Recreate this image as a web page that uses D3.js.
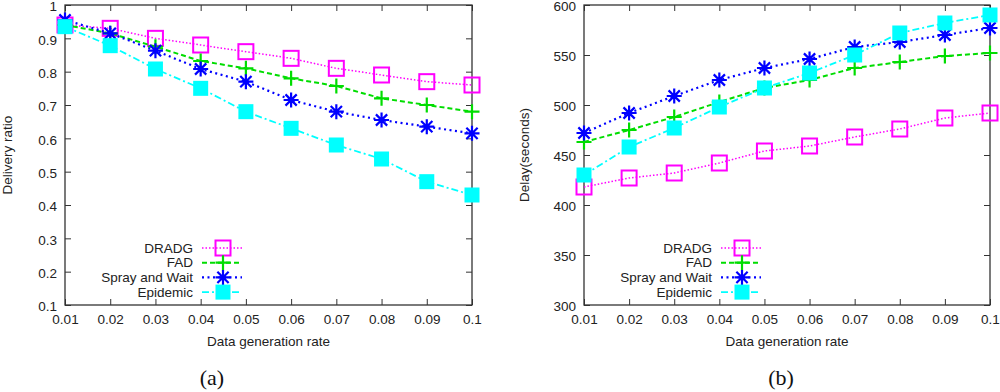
<!DOCTYPE html>
<html lang="en">
<head>
    <meta charset="UTF-8">
    <title>Delivery ratio and delay</title>
    <script src="https://d3js.org/d3.v7.min.js"></script>
    <style>
        body { margin: 0; background: #fff; }
        text { font-family: "Liberation Sans", Arial, sans-serif; fill: #222; }
        text.caption { font-family: "Liberation Serif", "Times New Roman", serif; fill: #111; }
    </style>
</head>
<body>
<svg width="1000" height="392" viewBox="0 0 1000 392"></svg>
<script>
    let rates = [0.01, 0.02, 0.03, 0.04, 0.05, 0.06, 0.07, 0.08, 0.09, 0.1]
    let xTickLabels = ["0.01", "0.02", "0.03", "0.04", "0.05", "0.06", "0.07", "0.08", "0.09", "0.1"]
    let seriesNames = ["DRADG", "FAD", "Spray and Wait", "Epidemic"]

    // delivery ratio, panel (a)
    let ratioDRADG = [0.94, 0.93, 0.90, 0.88, 0.86, 0.84, 0.81, 0.79, 0.77, 0.76]
    let ratioFAD = [0.94, 0.915, 0.875, 0.832, 0.81, 0.78, 0.757, 0.72, 0.70, 0.68]
    let ratioSpray = [0.955, 0.915, 0.863, 0.808, 0.77, 0.715, 0.68, 0.655, 0.635, 0.615]
    let ratioEpidemic = [0.935, 0.878, 0.808, 0.75, 0.68, 0.63, 0.58, 0.538, 0.47, 0.43]
    let ratioTicks = [0.1, 0.2, 0.3, 0.4, 0.5, 0.6, 0.7, 0.8, 0.9, 1]
    let ratioTickLabels = ["0.1", "0.2", "0.3", "0.4", "0.5", "0.6", "0.7", "0.8", "0.9", "1"]

    // delay, panel (b)
    let delayDRADG = [418, 427, 432, 442, 454, 459, 468, 476, 487, 492]
    let delayFAD = [463, 475, 488, 503, 517, 525, 537, 543, 549, 552]
    let delaySpray = [472, 492, 509, 525, 537, 546, 558, 563, 570, 577]
    let delayEpidemic = [430, 458, 477, 498, 517, 532, 550, 572, 582, 590]
    let delayTicks = [300, 350, 400, 450, 500, 550, 600]
    let delayTickLabels = ["300", "350", "400", "450", "500", "550", "600"]

    let styles = [
        {color: "#ff00ff", dash: "1.5,2", width: 1.5, marker: "box"},
        {color: "#00dd00", dash: "5,3", width: 2, marker: "plus"},
        {color: "#0000ff", dash: "2,3.5", width: 2.2, marker: "star"},
        {color: "#00ffff", dash: "7,3,2,3", width: 1.8, marker: "fbox"}
    ]

    let svg = d3.select("svg")

    function drawMarker(g, type, color, x, y) {
        let s = 7.5
        if (type == "box") {
            g.append("rect").attr("x", x - s).attr("y", y - s).attr("width", 2 * s).attr("height", 2 * s)
                .attr("fill", "none").attr("stroke", color).attr("stroke-width", 2)
        } else if (type == "fbox") {
            g.append("rect").attr("x", x - s).attr("y", y - s).attr("width", 2 * s).attr("height", 2 * s)
                .attr("fill", color)
        } else {
            let p = `M${x - s},${y}H${x + s}M${x},${y - s}V${y + s}`
            if (type == "star") p += `M${x - s * 0.75},${y - s * 0.75}L${x + s * 0.75},${y + s * 0.75}M${x - s * 0.75},${y + s * 0.75}L${x + s * 0.75},${y - s * 0.75}`
            g.append("path").attr("d", p).attr("stroke", color).attr("stroke-width", 2.2).attr("fill", "none")
        }
    }

    function panel(opt) {
        let x = d3.scaleLinear().domain([0.01, 0.1]).range([opt.left, opt.right])
        let y = d3.scaleLinear().domain(opt.yDomain).range([305, 5])
        let g = svg.append("g")

        // inward ticks on all sides, gnuplot style
        let tickLen = 6
        g.append("g").attr("transform", "translate(0,305)")
            .call(d3.axisBottom(x).tickValues(rates).tickSize(-tickLen).tickPadding(9)
                .tickFormat((d, i) => xTickLabels[i]))
        g.append("g").attr("transform", "translate(0,5)")
            .call(d3.axisTop(x).tickValues(rates).tickSize(-tickLen).tickFormat(""))
        let yAxis = g.append("g").attr("transform", `translate(${opt.left},0)`)
            .call(d3.axisLeft(y).tickValues(opt.yTicks).tickSize(-tickLen).tickPadding(8)
                .tickFormat((d, i) => opt.yTickLabels[i]))
        yAxis.selectAll(".tick text").attr("dy", "0.42em")
        g.append("g").attr("transform", `translate(${opt.right},0)`)
            .call(d3.axisRight(y).tickValues(opt.yTicks).tickSize(-tickLen).tickFormat(""))
        g.selectAll(".domain").remove()
        g.selectAll(".tick line").attr("stroke", "#333")
        g.selectAll(".tick text").attr("font-size", 13.5).attr("fill", "#222")
            .attr("font-family", "Liberation Sans, Arial, sans-serif")
        g.append("rect").attr("x", opt.left).attr("y", 5)
            .attr("width", opt.right - opt.left).attr("height", 300)
            .attr("fill", "none").attr("stroke", "#333").attr("stroke-width", 1.3)

        let line = d3.line().x((d, i) => x(rates[i])).y(d => y(d))
        opt.series.forEach(function(vals, k) {
            let st = styles[k]
            g.append("path").attr("d", line(vals)).attr("fill", "none")
                .attr("stroke", st.color).attr("stroke-width", st.width).attr("stroke-dasharray", st.dash)
            vals.forEach((v, i) => drawMarker(g, st.marker, st.color, x(rates[i]), y(v)))
        })

        // legend
        seriesNames.forEach(function(name, k) {
            let st = styles[k]
            let ly = 248 + k * 14.7
            g.append("text").attr("x", opt.legendX).attr("y", ly).attr("dy", "0.35em")
                .attr("text-anchor", "end").attr("font-size", 13.5).text(name)
            g.append("line").attr("x1", opt.legendX + 9).attr("x2", opt.legendX + 49)
                .attr("y1", ly).attr("y2", ly).attr("stroke", st.color)
                .attr("stroke-width", st.width).attr("stroke-dasharray", st.dash)
            drawMarker(g, st.marker, st.color, opt.legendX + 30, ly)
        })

        g.append("text").attr("x", (opt.left + opt.right) / 2).attr("y", 346)
            .attr("text-anchor", "middle").attr("font-size", 13.5).text("Data generation rate")
        g.append("text").attr("transform", `translate(${opt.titleX},155) rotate(-90)`)
            .attr("text-anchor", "middle").attr("font-size", 13.5).text(opt.yTitle)
        g.append("text").attr("class", "caption").attr("x", opt.capX).attr("y", 385)
            .attr("text-anchor", "middle").attr("font-size", 22).text(opt.caption)
    }

    panel({
        left: 65, right: 472, yDomain: [0.1, 1], yTicks: ratioTicks, yTickLabels: ratioTickLabels,
        series: [ratioDRADG, ratioFAD, ratioSpray, ratioEpidemic],
        legendX: 193, yTitle: "Delivery ratio", titleX: 12, caption: "(a)", capX: 212
    })
    panel({
        left: 584, right: 990, yDomain: [300, 600], yTicks: delayTicks, yTickLabels: delayTickLabels,
        series: [delayDRADG, delayFAD, delaySpray, delayEpidemic],
        legendX: 712, yTitle: "Delay(seconds)", titleX: 529, caption: "(b)", capX: 781
    })
</script>
</body>
</html>
